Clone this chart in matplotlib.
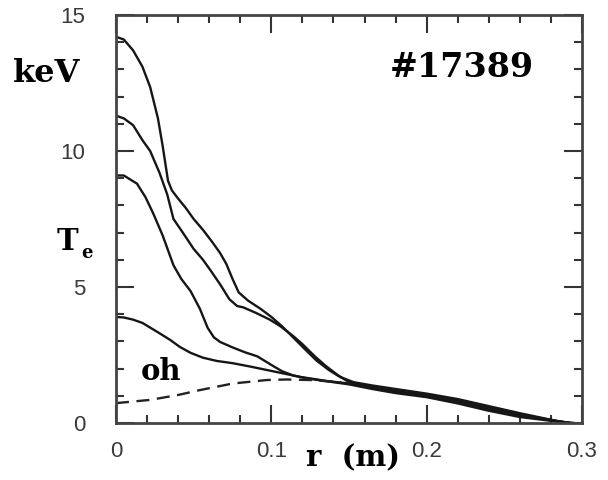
import numpy as np
import matplotlib
matplotlib.use("Agg")
import matplotlib.pyplot as plt
from matplotlib.ticker import MultipleLocator

# electron temperature profiles, shot #17389
r_a = [0, 0.005, 0.011, 0.017, 0.022, 0.027, 0.030, 0.0335, 0.036, 0.040, 0.045, 0.050,
       0.056, 0.062, 0.067, 0.071, 0.075, 0.079, 0.085, 0.093, 0.100, 0.107, 0.114, 0.121,
       0.129, 0.137, 0.144, 0.153, 0.165, 0.18, 0.2, 0.22, 0.24, 0.26, 0.275, 0.29]
te_a = [14.2, 14.1, 13.7, 13.1, 12.35, 11.2, 10.2, 8.9, 8.55, 8.25, 7.9, 7.5,
        7.1, 6.65, 6.25, 5.85, 5.3, 4.8, 4.5, 4.2, 3.9, 3.55, 3.15, 2.75,
        2.3, 1.95, 1.7, 1.5, 1.38, 1.25, 1.08, 0.88, 0.62, 0.36, 0.18, 0.0]

r_b = [0, 0.005, 0.011, 0.017, 0.022, 0.028, 0.033, 0.037, 0.043, 0.050, 0.056, 0.061,
       0.067, 0.073, 0.078, 0.082, 0.090, 0.099, 0.106, 0.114, 0.12, 0.128, 0.135, 0.143,
       0.15, 0.165, 0.18, 0.2, 0.22, 0.24, 0.26, 0.275, 0.292]
te_b = [11.3, 11.2, 10.95, 10.4, 10.0, 9.2, 8.4, 7.5, 7.0, 6.4, 6.0, 5.6,
        5.1, 4.55, 4.3, 4.25, 4.05, 3.8, 3.55, 3.2, 2.9, 2.45, 2.1, 1.75,
        1.5, 1.32, 1.18, 1.02, 0.82, 0.57, 0.32, 0.16, 0.0]

r_c = [0, 0.005, 0.0135, 0.019, 0.024, 0.030, 0.037, 0.042, 0.048, 0.054, 0.059, 0.063,
       0.067, 0.075, 0.083, 0.091, 0.101, 0.107, 0.114, 0.122, 0.13, 0.15, 0.165, 0.18,
       0.2, 0.22, 0.24, 0.26, 0.28, 0.295]
te_c = [9.1, 9.1, 8.8, 8.3, 7.7, 6.9, 5.8, 5.3, 4.85, 4.2, 3.5, 3.15,
        2.98, 2.78, 2.6, 2.45, 2.1, 1.9, 1.75, 1.65, 1.58, 1.42, 1.25, 1.1,
        0.95, 0.72, 0.45, 0.22, 0.08, 0.0]

r_oh = [0, 0.005, 0.011, 0.017, 0.028, 0.035, 0.041, 0.048, 0.056, 0.065, 0.075, 0.086,
        0.097, 0.108, 0.118, 0.135, 0.15, 0.165, 0.18, 0.2, 0.22, 0.24, 0.26, 0.28, 0.293]
te_oh = [3.9, 3.88, 3.8, 3.68, 3.3, 3.05, 2.8, 2.58, 2.4, 2.28, 2.2, 2.08,
         1.95, 1.82, 1.7, 1.55, 1.45, 1.3, 1.15, 1.0, 0.78, 0.5, 0.28, 0.1, 0.0]

r_dash = [0, 0.022, 0.04, 0.054, 0.075, 0.097, 0.11, 0.125, 0.145]
te_dash = [0.73, 0.85, 1.03, 1.21, 1.45, 1.58, 1.6, 1.58, 1.5]

xticks = [0, 0.1, 0.2, 0.3]
xticklabels = ["0", "0.1", "0.2", "0.3"]
yticks = [0, 5, 10, 15]

fig = plt.figure(figsize=(6.08, 4.8), dpi=100)
ax = fig.add_axes([116/608, 57/480, 466/608, 408/480])

for r, te in [(r_a, te_a), (r_b, te_b), (r_c, te_c), (r_oh, te_oh)]:
    ax.plot(r, te, color="#161616", lw=1.7, solid_joinstyle="round", solid_capstyle="round")
ax.plot(r_dash, te_dash, color="#222222", lw=1.7, dashes=(5.5, 3.2))

ax.set_xlim(0, 0.3)
ax.set_ylim(0, 15)
ax.set_xticks(xticks)
ax.set_xticklabels(xticklabels)
ax.set_yticks(yticks)
ax.xaxis.set_minor_locator(MultipleLocator(0.02))
ax.yaxis.set_minor_locator(MultipleLocator(1))
ax.tick_params(which="both", direction="in", top=True, right=True, color="#333333", width=1.5)
ax.tick_params(which="major", length=13)
ax.tick_params(which="minor", length=6)
ax.tick_params(axis="y", pad=22)
ax.tick_params(axis="x", pad=13)
for lab in ax.get_xticklabels() + ax.get_yticklabels():
    lab.set_family("Liberation Sans")
    lab.set_fontsize(16)
    lab.set_color("#3a3a3a")
for s in ax.spines.values():
    s.set_linewidth(2)
    s.set_color("#444444")

serif = dict(family="DejaVu Serif", fontweight="bold", color="black")
fig.text(13/608, 1 - 82/480, "keV", fontsize=23, **serif)
fig.text(390/608, 1 - 77/480, "#17389", fontsize=24, **serif)
fig.text(57/608, 1 - 250/480, "T", fontsize=21, **serif)
fig.text(81/608, 1 - 258/480, "e", fontsize=13, **serif)
fig.text(141/608, 1 - 380/480, "oh", fontsize=21, **serif)
fig.text(306/608, 1 - 466/480, "r  (m)", fontsize=21, **serif)

fig.savefig("out.png", dpi=100)
